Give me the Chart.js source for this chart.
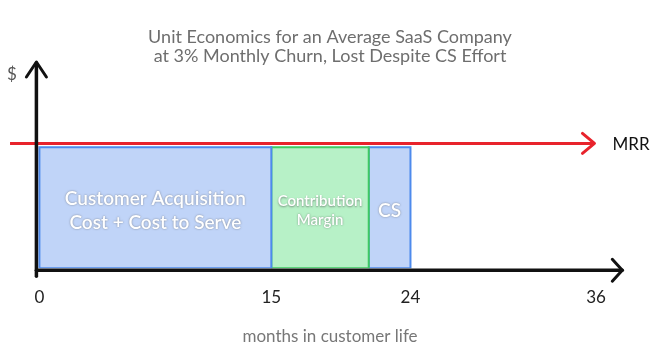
<!DOCTYPE html>
<html>
<head>
<meta charset="utf-8">
<script src="https://cdn.jsdelivr.net/npm/chart.js@4/dist/chart.umd.min.js"></script>
<style>
  html, body { margin: 0; padding: 0; background: #ffffff; }
  #wrap { width: 650px; height: 355px; }
</style>
</head>
<body>
<div id="wrap"><canvas id="c" width="650" height="355"></canvas></div>
<script>
// ---- data ----
const titleLines = ['Unit Economics for an Average SaaS Company', 'at 3% Monthly Churn, Lost Despite CS Effort'];
const segmentLabels = [['Customer Acquisition', 'Cost + Cost to Serve'], ['Contribution', 'Margin'], ['CS']];
const segmentStarts = [0, 15, 21.3];
const segmentEnds = [15, 21.3, 24];
const segmentHeights = [0.97, 0.97, 0.97];
const mrrLevel = 1;
const mrrRange = [-1.9, 35.9];
const axisEnd = 37.7;
const tickValues = [0, 15, 24, 36];
const xAxisLabel = 'months in customer life';
const yAxisLabel = '$';
const mrrLabel = 'MRR';

const segFill = ['rgba(192,212,248,1)', 'rgba(183,241,199,1)', 'rgba(192,212,248,1)'];
const segBorder = ['#4d8aec', '#3fca63', '#4d8aec'];
const segFont = [19, 15, 19];

const rectDatasets = segmentStarts.map((s, i) => {
  const e = segmentEnds[i], h = segmentHeights[i];
  return {
    label: segmentLabels[i].join(' '),
    data: [{x: s, y: 0}, {x: s, y: h}, {x: e, y: h}, {x: e, y: 0}, {x: s, y: 0}],
    showLine: true,
    fill: 'shape',
    backgroundColor: segFill[i],
    borderColor: segBorder[i],
    borderWidth: 2,
    pointRadius: 0,
    tension: 0,
    order: 2
  };
});

const mrrDataset = {
  label: mrrLabel,
  data: [{x: mrrRange[0], y: mrrLevel}, {x: mrrRange[1], y: mrrLevel}],
  showLine: true,
  borderColor: '#e8232c',
  borderWidth: 3,
  pointRadius: 0,
  fill: false,
  clip: false,
  order: 1
};

const FONT = 'Lato, "Open Sans", sans-serif';

const decorations = {
  id: 'decorations',
  afterDatasetsDraw(chart) {
    const ctx = chart.ctx;
    const xs = chart.scales.x, ys = chart.scales.y;
    const area = chart.chartArea;
    ctx.save();
    // segment labels
    segmentLabels.forEach((lines, i) => {
      const cx = xs.getPixelForValue((segmentStarts[i] + segmentEnds[i]) / 2);
      const cy = ys.getPixelForValue(segmentHeights[i] / 2) + 3;
      const fs = segFont[i];
      ctx.font = '600 ' + fs + 'px ' + FONT;
      ctx.textAlign = 'center';
      ctx.textBaseline = 'middle';
      ctx.fillStyle = '#ffffff';
      ctx.shadowColor = 'rgba(60,60,60,0.55)';
      ctx.shadowBlur = 2;
      ctx.shadowOffsetX = 0;
      ctx.shadowOffsetY = 0.5;
      const lh = fs * 1.25;
      lines.forEach((t, k) => {
        ctx.fillText(t, cx, cy + (k - (lines.length - 1) / 2) * lh);
      });
    });
    ctx.shadowColor = 'transparent';
    ctx.shadowBlur = 0;

    // MRR arrowhead
    const mx = xs.getPixelForValue(mrrRange[1]);
    const my = ys.getPixelForValue(mrrLevel);
    ctx.strokeStyle = '#e8232c';
    ctx.lineWidth = 3;
    ctx.lineCap = 'round';
    ctx.lineJoin = 'round';
    ctx.beginPath();
    ctx.moveTo(mx - 12, my - 10);
    ctx.lineTo(mx, my);
    ctx.lineTo(mx - 12, my + 10);
    ctx.stroke();
    ctx.font = '17px ' + FONT;
    ctx.fillStyle = '#111';
    ctx.textAlign = 'left';
    ctx.textBaseline = 'middle';
    ctx.fillText(mrrLabel, mx + 18, my + 1);

    // axes
    const ox = xs.getPixelForValue(0) - 3;
    const oy = ys.getPixelForValue(0) + 2;
    const tipY = area.top - 4;
    const tipX = xs.getPixelForValue(axisEnd);
    ctx.strokeStyle = '#111';
    ctx.lineWidth = 3.5;
    ctx.lineCap = 'round';
    // y axis
    ctx.beginPath();
    ctx.moveTo(ox, oy + 6);
    ctx.lineTo(ox, tipY + 1);
    ctx.stroke();
    ctx.lineWidth = 3;
    ctx.beginPath();
    ctx.moveTo(ox - 10, tipY + 15);
    ctx.lineTo(ox, tipY);
    ctx.lineTo(ox + 10, tipY + 15);
    ctx.stroke();
    // x axis
    ctx.lineWidth = 3.5;
    ctx.beginPath();
    ctx.moveTo(ox, oy);
    ctx.lineTo(tipX, oy);
    ctx.stroke();
    ctx.lineWidth = 3;
    ctx.beginPath();
    ctx.moveTo(tipX - 10, oy - 11);
    ctx.lineTo(tipX, oy);
    ctx.lineTo(tipX - 10, oy + 11);
    ctx.stroke();

    // $ label
    ctx.font = '17px ' + FONT;
    ctx.fillStyle = '#555';
    ctx.textAlign = 'center';
    ctx.textBaseline = 'middle';
    ctx.fillText(yAxisLabel, 12, area.top + 9);
    ctx.restore();
  }
};

new Chart(document.getElementById('c'), {
  type: 'line',
  data: { datasets: rectDatasets.concat([mrrDataset]) },
  plugins: [decorations],
  options: {
    responsive: false,
    animation: false,
    layout: { padding: { left: 19, right: 9, bottom: 9.5, top: 0 } },
    plugins: {
      legend: { display: false },
      tooltip: { enabled: false },
      title: {
        display: true,
        text: titleLines,
        color: '#6e6e6e',
        font: { family: FONT, size: 18, weight: '400', lineHeight: 1.055 },
        padding: { top: 28, bottom: 0 }
      }
    },
    scales: {
      x: {
        type: 'linear',
        min: -1.32,
        max: 38.91,
        grid: { display: false, drawTicks: false },
        border: { display: false },
        afterBuildTicks: axis => { axis.ticks = tickValues.map(v => ({ value: v })); },
        ticks: {
          autoSkip: false,
          maxRotation: 0,
          padding: 26,
          color: '#222',
          font: { family: FONT, size: 17, lineHeight: 0.35 }
        },
        title: {
          display: true,
          text: xAxisLabel,
          color: '#777',
          font: { family: FONT, size: 17, lineHeight: 1.0 },
          padding: { top: 2.3, bottom: 0 }
        }
      },
      y: {
        type: 'linear',
        display: false,
        min: 0,
        max: 1.62
      }
    }
  }
});
</script>
</body>
</html>
